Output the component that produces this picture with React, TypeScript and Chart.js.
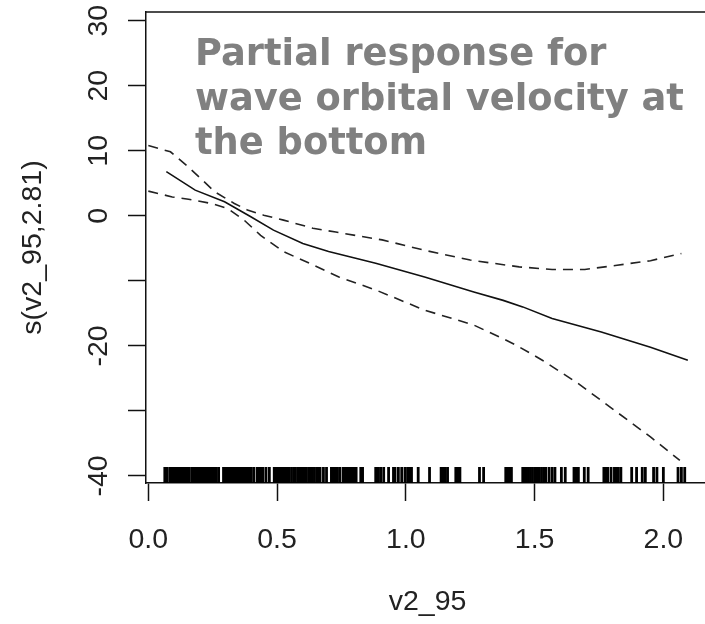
import React, { useEffect, useRef } from "react";
import { Chart, registerables } from "chart.js";

Chart.register(...registerables);

// Smooth term (fit) and its confidence band
const FIT_X = [0.07, 0.182, 0.296, 0.398, 0.486, 0.6, 0.7, 0.883, 1.073, 1.264, 1.378, 1.454, 1.568, 1.759, 1.95, 2.095];
const FIT_Y = [6.8, 3.95, 2.15, -0.15, -2.2, -4.25, -5.5, -7.3, -9.4, -11.7, -13.0, -14.0, -15.8, -17.85, -20.2, -22.2];

const UPPER_X = [0, 0.086, 0.156, 0.258, 0.334, 0.385, 0.448, 0.525, 0.639, 0.728, 0.908, 1.073, 1.25, 1.44, 1.568, 1.695, 1.82, 1.95, 2.07];
const UPPER_Y = [10.8, 9.85, 7.5, 3.7, 1.9, 0.9, 0.1, -0.66, -1.9, -2.5, -3.7, -5.3, -6.8, -7.85, -8.25, -8.25, -7.6, -6.9, -5.8];

const LOWER_X = [0, 0.093, 0.156, 0.245, 0.309, 0.372, 0.436, 0.525, 0.626, 0.74, 0.883, 1.073, 1.264, 1.378, 1.429, 1.53, 1.67, 1.81, 1.95, 2.064];
const LOWER_Y = [3.8, 2.9, 2.55, 1.9, 1.1, -0.66, -3.0, -5.5, -7.3, -9.4, -11.4, -14.5, -16.8, -18.9, -19.9, -22.2, -25.8, -29.9, -34.0, -37.6];

// Rug of observed v2_95 values
const RUG_X = [
  0.064, 0.072, 0.083, 0.092, 0.099, 0.106, 0.113, 0.12, 0.127, 0.133,
  0.14, 0.147, 0.153, 0.159, 0.169, 0.176, 0.183, 0.19, 0.197, 0.203, 0.21, 0.216,
  0.222, 0.229, 0.236, 0.243, 0.25, 0.257, 0.264, 0.273,
  0.292, 0.299, 0.306, 0.314, 0.322, 0.33, 0.337, 0.343, 0.349,
  0.356, 0.363, 0.37, 0.378, 0.386, 0.394, 0.4, 0.41,
  0.423, 0.43, 0.437, 0.445, 0.457, 0.47,
  0.489, 0.496, 0.503, 0.51, 0.517, 0.524, 0.532, 0.54,
  0.546, 0.556, 0.565, 0.571, 0.58, 0.589, 0.597, 0.603, 0.612, 0.622,
  0.629, 0.636, 0.645, 0.654, 0.66, 0.667, 0.68, 0.692,
  0.711, 0.718, 0.726, 0.734, 0.743,
  0.756, 0.763, 0.77, 0.778, 0.785, 0.792, 0.8, 0.807, 0.825, 0.832,
  0.883, 0.893, 0.902, 0.914, 0.933, 0.952, 0.958, 0.971, 0.984, 0.997,
  1.007, 1.015, 1.022, 1.048, 1.092,
  1.137, 1.145, 1.153, 1.162, 1.194, 1.202, 1.21, 1.286, 1.302,
  1.388, 1.396, 1.403, 1.41, 1.454, 1.461, 1.468, 1.476, 1.484, 1.492,
  1.502, 1.51, 1.518, 1.527, 1.537, 1.543, 1.556, 1.568, 1.579, 1.604, 1.619,
  1.653, 1.661, 1.67, 1.693, 1.708, 1.769, 1.777, 1.784, 1.797, 1.81,
  1.816, 1.825, 1.835, 1.877, 1.896, 1.918, 1.93, 1.962, 1.975, 2.0,
  2.057, 2.07, 2.083,
];

const X_TICKS = [0, 0.5, 1.0, 1.5, 2.0];
const Y_TICKS = [-40, -30, -20, -10, 0, 10, 20, 30];
const Y_LABELLED = [-40, -20, 0, 10, 20, 30];

const X_MIN = -0.009;
const X_MAX = 2.178;
const Y_MIN = -41.08;
const Y_MAX = 31.34;

const TITLE_LINES = ["Partial response for", "wave orbital velocity at", "the bottom"];
const X_TITLE = "v2_95";
const Y_TITLE = "s(v2_95,2.81)";

const AXIS_FONT = { family: '"Liberation Sans", Arial, sans-serif', size: 28.5 };
const TEXT_COLOR = "#222";

export default function App() {
  const canvasRef = useRef<HTMLCanvasElement | null>(null);

  useEffect(() => {
    const canvas = canvasRef.current;
    if (!canvas) return;

    const topBorder = {
      id: "topBorder",
      afterDraw(chart: any) {
        const { ctx, chartArea } = chart;
        ctx.save();
        ctx.strokeStyle = "#111";
        ctx.lineWidth = 1.5;
        ctx.beginPath();
        ctx.moveTo(chartArea.left, chartArea.top);
        ctx.lineTo(chartArea.right, chartArea.top);
        ctx.stroke();
        ctx.restore();
      },
    };

    const overlayTitle = {
      id: "overlayTitle",
      afterDraw(chart: any) {
        const { ctx } = chart;
        ctx.save();
        ctx.fillStyle = "#808080";
        ctx.font = 'bold 36.8px "DejaVu Sans", Verdana, sans-serif';
        ctx.textAlign = "left";
        ctx.textBaseline = "alphabetic";
        TITLE_LINES.forEach((line, i) => {
          ctx.fillText(line, 195, 65 + i * 44.5);
        });
        ctx.restore();
      },
    };

    const toPts = (xs: number[], ys: number[]) => xs.map((x, i) => ({ x, y: ys[i] }));

    const chart = new Chart(canvas, {
      type: "scatter",
      data: {
        datasets: [
          {
            data: toPts(FIT_X, FIT_Y),
            showLine: true,
            borderColor: "#111",
            borderWidth: 1.6,
            pointRadius: 0,
            tension: 0,
          },
          {
            data: toPts(UPPER_X, UPPER_Y),
            showLine: true,
            borderColor: "#222",
            borderWidth: 1.6,
            borderDash: [10, 7],
            pointRadius: 0,
            tension: 0,
          },
          {
            data: toPts(LOWER_X, LOWER_Y),
            showLine: true,
            borderColor: "#222",
            borderWidth: 1.6,
            borderDash: [10, 7],
            pointRadius: 0,
            tension: 0,
          },
          {
            data: RUG_X.map((x) => ({ x, y: Y_MIN + 1.23 })),
            showLine: false,
            pointStyle: "line",
            pointRotation: 90,
            pointRadius: 8,
            pointHoverRadius: 8,
            pointBorderColor: "#000",
            pointBorderWidth: 2.8,
            pointHoverBorderWidth: 2.8,
            borderColor: "#000",
            borderWidth: 2.8,
          },
        ],
      },
      options: {
        animation: false,
        responsive: false,
        devicePixelRatio: 1,
        layout: { padding: { top: 12, left: 0, right: 0, bottom: 0 } },
        plugins: {
          legend: { display: false },
          tooltip: { enabled: false },
          title: { display: false },
        },
        scales: {
          x: {
            type: "linear",
            min: X_MIN,
            max: X_MAX,
            afterBuildTicks: (s: any) => {
              s.ticks = X_TICKS.map((v) => ({ value: v }));
            },
            afterFit: (s: any) => {
              s.height = 141;
              s.paddingLeft = 0;
              s.paddingRight = 0;
              s.paddingTop = 0;
              s.paddingBottom = 0;
            },
            grid: {
              display: true,
              drawOnChartArea: false,
              drawTicks: true,
              tickLength: 18,
              tickColor: "#111",
              tickWidth: 1.5,
            },
            border: { display: true, color: "#111", width: 1.5 },
            ticks: {
              autoSkip: false,
              minRotation: 0,
              maxRotation: 0,
              padding: 22,
              color: TEXT_COLOR,
              font: AXIS_FONT,
              callback: (v: any) => Number(v).toFixed(1),
            },
            title: {
              display: true,
              text: X_TITLE,
              color: TEXT_COLOR,
              font: AXIS_FONT,
              padding: { top: 0, bottom: 5 },
            },
          },
          y: {
            type: "linear",
            min: Y_MIN,
            max: Y_MAX,
            afterBuildTicks: (s: any) => {
              s.ticks = Y_TICKS.map((v) => ({ value: v }));
            },
            afterFit: (s: any) => {
              s.width = 146;
              s.paddingLeft = 0;
              s.paddingRight = 0;
              s.paddingTop = 0;
              s.paddingBottom = 0;
            },
            grid: {
              display: true,
              drawOnChartArea: false,
              drawTicks: true,
              tickLength: 18,
              tickColor: "#111",
              tickWidth: 1.5,
            },
            border: { display: true, color: "#111", width: 1.5 },
            ticks: {
              autoSkip: false,
              minRotation: 90,
              maxRotation: 90,
              crossAlign: "center",
              padding: 8.4,
              color: TEXT_COLOR,
              font: AXIS_FONT,
              callback: (v: any) => (Y_LABELLED.includes(Number(v)) ? String(v) : ""),
            },
            title: {
              display: true,
              text: Y_TITLE,
              color: TEXT_COLOR,
              font: AXIS_FONT,
              padding: { top: 16, bottom: 0 },
            },
          },
        },
      },
      plugins: [topBorder, overlayTitle],
    } as any);

    return () => chart.destroy();
  }, []);

  return (
    <div
      style={{
        position: "fixed",
        left: 0,
        top: 0,
        width: 705,
        height: 624,
        overflow: "hidden",
        background: "#fff",
      }}
    >
      <canvas ref={canvasRef} width={720} height={624} style={{ display: "block" }} />
    </div>
  );
}
